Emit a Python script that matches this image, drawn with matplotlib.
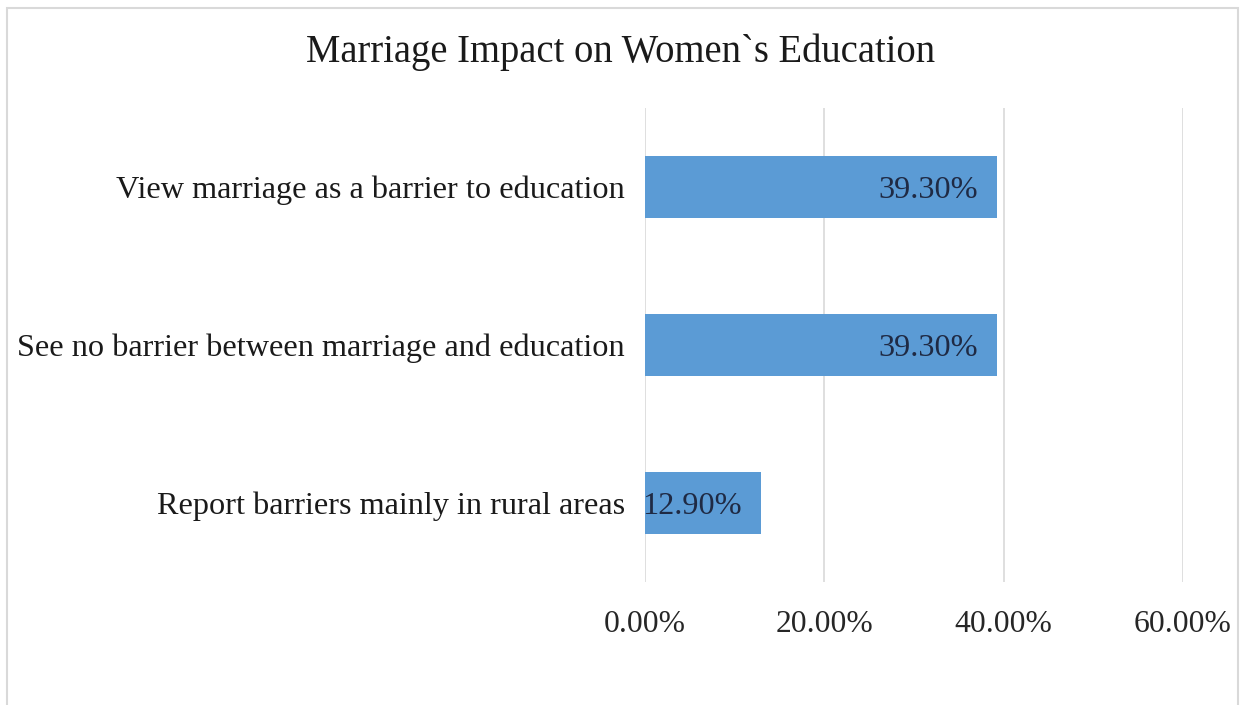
import matplotlib
matplotlib.use("Agg")
import matplotlib.pyplot as plt
from matplotlib.patches import Rectangle

categories = [
    "View marriage as a barrier to education",
    "See no barrier between marriage and education",
    "Report barriers mainly in rural areas",
]
values = [39.30, 39.30, 12.90]
xticks = [0, 20, 40, 60]
title = "Marriage Impact on Women`s Education"

W, H = 1241, 705
fig = plt.figure(figsize=(W / 100, H / 100), dpi=100)
fig.patch.set_facecolor("white")

# light chart-area border (bottom edge runs off the canvas)
fig.add_artist(Rectangle((7 / W, -0.05), (1238 - 7) / W, (H - 8) / H + 0.05,
                         transform=fig.transFigure, fill=False,
                         edgecolor="#d9d9d9", linewidth=1.5))

left, right = 645 / W, 1183 / W
top, bottom = 1 - 108 / H, 1 - 582 / H
ax = fig.add_axes([left, bottom, right - left, top - bottom])

serif = ["Liberation Serif", "DejaVu Serif"]
ypos = list(range(len(categories)))
ax.barh(ypos, values, height=0.39, color="#5b9bd5", zorder=3)
ax.set_ylim(len(categories) - 0.5, -0.5)
ax.set_xlim(0, 60)
ax.set_xticks(xticks)
ax.set_xticklabels([f"{t:.2f}%" for t in xticks], fontfamily=serif,
                   fontsize=22.8, color="#262626")
ax.set_yticks(ypos)
ax.set_yticklabels(categories, fontfamily=serif, fontsize=23.2, color="#1a1a1a")
ax.tick_params(axis="x", length=0, pad=20.5)
ax.tick_params(axis="y", length=0, pad=14.5)
ax.grid(axis="x", color="#d9d9d9", linewidth=1.2, zorder=0)
for s in ax.spines.values():
    s.set_visible(False)

for y, v in zip(ypos, values):
    ax.annotate(f"{v:.2f}%", xy=(v, y), xytext=(-19, 0),
                textcoords="offset pixels", ha="right", va="center_baseline",
                fontfamily=serif, fontsize=23.2, color="#1f2a44", zorder=4)

fig.text(621 / W, 1 - 52 / H, title, ha="center", va="center",
         fontfamily=serif, fontsize=27.8, color="#1a1a1a")

fig.savefig("out.png", dpi=100)
